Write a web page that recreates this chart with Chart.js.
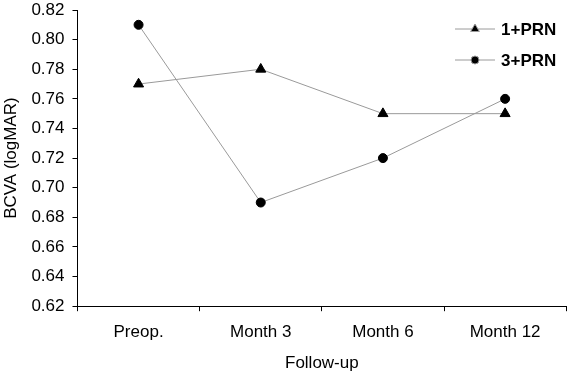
<!DOCTYPE html>
<html>
<head>
<meta charset="utf-8">
<script src="https://cdn.jsdelivr.net/npm/chart.js@4"></script>
<style>
  body { margin: 0; background: #fff; }
  #wrap { width: 573px; height: 374px; }
</style>
</head>
<body>
<div id="wrap"><canvas id="chart" width="573" height="374"></canvas></div>
<script>
const categories = ["Preop.", "Month 3", "Month 6", "Month 12"];
const seriesNames = ["1+PRN", "3+PRN"];
const prn1 = [0.77, 0.78, 0.75, 0.75];
const prn3 = [0.81, 0.69, 0.72, 0.76];
const yTicks = [0.62, 0.64, 0.66, 0.68, 0.70, 0.72, 0.74, 0.76, 0.78, 0.80, 0.82];

const FONT = "'Liberation Sans', Arial, sans-serif";

// legend drawn at top right: short grey line with the marker in the middle
const lineLegend = {
    id: "lineLegend",
    afterDraw(chart) {
        const ctx = chart.ctx;
        const x0 = 455, x1 = 495, rows = [29, 60];
        chart.data.datasets.forEach((ds, i) => {
            const y = rows[i];
            ctx.save();
            ctx.strokeStyle = ds.borderColor;
            ctx.lineWidth = 1;
            ctx.beginPath();
            ctx.moveTo(x0, y);
            ctx.lineTo(x1, y);
            ctx.stroke();
            Chart.helpers.drawPoint(ctx, {
                pointStyle: ds.pointStyle,
                radius: ds.pointStyle === "triangle" ? 5 : 4,
                borderWidth: 1
            }, (x0 + x1) / 2, y);
            ctx.fillStyle = "#000";
            ctx.font = "bold 17px " + FONT;
            ctx.textBaseline = "middle";
            ctx.fillText(ds.label, 501, y + 1);
            ctx.restore();
        });
    }
};

const ctx = document.getElementById("chart");
new Chart(ctx, {
    type: "line",
    data: {
        labels: categories,
        datasets: [
            {
                label: seriesNames[0],
                data: prn1,
                borderColor: "#9a9a9a",
                borderWidth: 1,
                pointStyle: "triangle",
                pointRadius: 5.8,
                pointBackgroundColor: "#000",
                pointBorderColor: "#000",
                fill: false
            },
            {
                label: seriesNames[1],
                data: prn3,
                borderColor: "#9a9a9a",
                borderWidth: 1,
                pointStyle: "circle",
                pointRadius: 4.5,
                pointBackgroundColor: "#000",
                pointBorderColor: "#000",
                fill: false
            }
        ]
    },
    options: {
        responsive: false,
        animation: false,
        layout: { padding: { top: 0, right: 4, left: 1, bottom: 0 } },
        plugins: {
            legend: { display: false },
            tooltip: { enabled: false }
        },
        scales: {
            x: {
                offset: true,
                grid: {
                    offset: true,
                    drawOnChartArea: false,
                    color: "#000",
                    tickLength: 5
                },
                border: { color: "#000", width: 1 },
                ticks: { color: "#000", font: { family: FONT, size: 17 }, padding: 11 },
                title: {
                    display: true,
                    text: "Follow-up",
                    color: "#000",
                    font: { family: FONT, size: 17 },
                    padding: { top: 0, bottom: 0 }
                }
            },
            y: {
                min: 0.62,
                max: 0.82,
                afterBuildTicks(axis) {
                    axis.ticks = yTicks.map(v => ({ value: v }));
                },
                afterFit(axis) {
                    axis.paddingTop = 10;
                },
                grid: {
                    drawOnChartArea: false,
                    color: "#000",
                    tickLength: 5
                },
                border: { color: "#000", width: 1 },
                ticks: {
                    color: "#000",
                    font: { family: FONT, size: 17 },
                    padding: 8,
                    callback: v => v.toFixed(2)
                },
                title: {
                    display: true,
                    text: "BCVA (logMAR)",
                    color: "#000",
                    font: { family: FONT, size: 17 },
                    padding: { top: 0, bottom: 2 }
                }
            }
        }
    },
    plugins: [lineLegend]
});
</script>
</body>
</html>
